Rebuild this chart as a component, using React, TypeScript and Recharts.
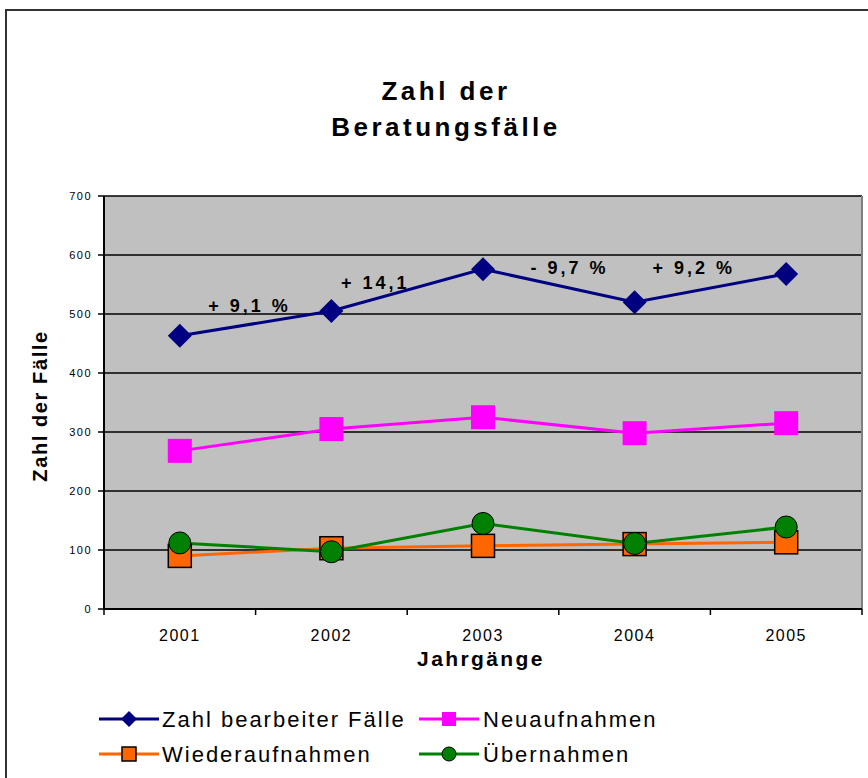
import React from 'react';
import { LineChart, Line, XAxis, YAxis, CartesianGrid, ReferenceDot, ReferenceLine } from 'recharts';

const years = ['2001', '2002', '2003', '2004', '2005'];
const bearbeitet = [463, 505, 576, 520, 568];
const neuaufnahmen = [268, 305, 325, 298, 315];
const wiederaufnahmen = [90, 103, 107, 110, 113];
const uebernahmen = [112, 97, 145, 111, 139];
const yTicks = [0, 100, 200, 300, 400, 500, 600, 700];

const annotationTexts = ['+ 9,1 %', '+ 14,1', '- 9,7 %', '+ 9,2 %'];
const annotationX = [1.46, 2.29, 3.57, 4.39];
const annotationY = [515, 554, 578, 578];

const seriesNames = ['Zahl bearbeiter Fälle', 'Neuaufnahmen', 'Wiederaufnahmen', 'Übernahmen'];

const data = years.map((year, i) => ({
  x: i + 1,
  year,
  bearbeitet: bearbeitet[i],
  neu: neuaufnahmen[i],
  wieder: wiederaufnahmen[i],
  ueber: uebernahmen[i],
}));

const xTicks: number[] = [];
for (let i = 0; i <= years.length * 2; i++) xTicks.push(0.5 + i * 0.5);

const FONT = '"Liberation Sans", Arial, sans-serif';

const NAVY = '#000080';
const MAGENTA = '#ff00ff';
const ORANGE = '#ff6600';
const GREEN = '#008000';

const diamond = (cx: number, cy: number, s: number, fill: string, key?: any) => (
  <polygon key={key} points={`${cx},${cy - s} ${cx + s},${cy} ${cx},${cy + s} ${cx - s},${cy}`} fill={fill} />
);

const DiamondDot = (p: any) => diamond(p.cx, p.cy, 12, NAVY, p.key ?? `d${p.index}`);
const MagentaDot = (p: any) => (
  <rect key={p.key ?? `m${p.index}`} x={p.cx - 12} y={p.cy - 12} width={24} height={24} fill={MAGENTA} />
);
const OrangeDot = (p: any) => (
  <rect key={p.key ?? `o${p.index}`} x={p.cx - 11.5} y={p.cy - 11.5} width={23} height={23} fill={ORANGE} stroke="#000" strokeWidth={1.5} />
);
const GreenDot = (p: any) => (
  <circle key={p.key ?? `g${p.index}`} cx={p.cx} cy={p.cy} r={11} fill={GREEN} stroke="#000" strokeWidth={1} />
);

const XTick = (props: any) => {
  const { x, y, payload } = props;
  const v = payload.value as number;
  if (Number.isInteger(v)) {
    return (
      <text x={x} y={y + 26} textAnchor="middle" fontSize={16} fill="#000" style={{ fontFamily: FONT, letterSpacing: 1.5 }}>
        {years[v - 1]}
      </text>
    );
  }
  return <line x1={x} x2={x} y1={y - 6} y2={y} stroke="#000" strokeWidth={1.5} />;
};

const LegendIcon = ({ x, y, color, kind }: { x: number; y: number; color: string; kind: string }) => {
  const cx = x + 30;
  return (
    <g>
      <line x1={x} x2={x + 60} y1={y} y2={y} stroke={color} strokeWidth={3} />
      {kind === 'diamond' && diamond(cx, y, 8, color)}
      {kind === 'square' && <rect x={cx - 7} y={y - 7} width={14} height={14} fill={color} />}
      {kind === 'osquare' && <rect x={cx - 7} y={y - 7} width={14} height={14} fill={color} stroke="#000" strokeWidth={1.5} />}
      {kind === 'circle' && <circle cx={cx} cy={y} r={7} fill={color} stroke="#000" strokeWidth={1} />}
    </g>
  );
};

export default function App() {
  return (
    <div style={{ position: 'fixed', left: 0, top: 0, width: 868, height: 778, overflow: 'hidden', background: '#fff' }}>
      <div
        style={{
          position: 'absolute',
          left: 5,
          top: 9,
          width: 1000,
          height: 1000,
          border: '2px solid #333',
          boxSizing: 'border-box',
        }}
      />
      <div style={{ position: 'absolute', left: 0, top: 0 }}>
        <LineChart width={868} height={778} data={data} margin={{ top: 196, right: 6, left: 0, bottom: 139 }}>
          <CartesianGrid vertical={false} stroke="#000" strokeWidth={1.6} fill="#c0c0c0" fillOpacity={1} />
          <XAxis
            dataKey="x"
            type="number"
            domain={[0.5, 5.5]}
            ticks={xTicks}
            interval={0}
            tickLine={false}
            tickSize={6}
            tickMargin={0}
            height={30}
            axisLine={{ stroke: '#000', strokeWidth: 2 }}
            tick={XTick}
          />
          <YAxis
            width={104}
            domain={[0, 700]}
            ticks={yTicks}
            interval={0}
            tickSize={6}
            tickMargin={6}
            tickLine={{ stroke: '#000', strokeWidth: 1.5 }}
            axisLine={{ stroke: '#000', strokeWidth: 2 }}
            tick={{ fontSize: 11, fill: '#000', fontFamily: FONT, letterSpacing: 1.5 }}
          />
          <ReferenceLine x={5.5} stroke="#808080" strokeWidth={2} />
          <Line dataKey="bearbeitet" name={seriesNames[0]} stroke={NAVY} strokeWidth={3} dot={DiamondDot} activeDot={false} isAnimationActive={false} />
          <Line dataKey="neu" name={seriesNames[1]} stroke={MAGENTA} strokeWidth={3} dot={MagentaDot} activeDot={false} isAnimationActive={false} />
          <Line dataKey="wieder" name={seriesNames[2]} stroke={ORANGE} strokeWidth={3} dot={OrangeDot} activeDot={false} isAnimationActive={false} />
          <Line dataKey="ueber" name={seriesNames[3]} stroke={GREEN} strokeWidth={3} dot={GreenDot} activeDot={false} isAnimationActive={false} />
          {annotationTexts.map((t, i) => (
            <ReferenceDot
              key={t}
              x={annotationX[i]}
              y={annotationY[i]}
              r={0}
              fill="none"
              stroke="none"
              label={{ value: t, position: 'center', fill: '#000', fontSize: 18, fontWeight: 'bold', fontFamily: FONT, style: { letterSpacing: 3 } }}
            />
          ))}
        </LineChart>
      </div>
      <svg width={868} height={778} style={{ position: 'absolute', left: 0, top: 0, pointerEvents: 'none' }}>
        <g style={{ fontFamily: FONT }} fill="#000">
          <text x={446} y={100} textAnchor="middle" fontSize={26} fontWeight="bold" style={{ letterSpacing: 3.5 }}>
            Zahl der
          </text>
          <text x={446} y={136} textAnchor="middle" fontSize={26} fontWeight="bold" style={{ letterSpacing: 3.5 }}>
            Beratungsfälle
          </text>
          <text x={47} y={406} textAnchor="middle" fontSize={20} fontWeight="bold" transform="rotate(-90, 47, 406)" style={{ letterSpacing: 1.6 }}>
            Zahl der Fälle
          </text>
          <text x={481} y={666} textAnchor="middle" fontSize={21} fontWeight="bold" style={{ letterSpacing: 2.4 }}>
            Jahrgänge
          </text>

          <LegendIcon x={99} y={719} color={NAVY} kind="diamond" />
          <text x={162} y={727} fontSize={22} style={{ letterSpacing: 2 }}>{seriesNames[0]}</text>
          <LegendIcon x={419} y={719} color={MAGENTA} kind="square" />
          <text x={483} y={727} fontSize={22} style={{ letterSpacing: 2 }}>{seriesNames[1]}</text>
          <LegendIcon x={99} y={754} color={ORANGE} kind="osquare" />
          <text x={162} y={762} fontSize={22} style={{ letterSpacing: 2 }}>{seriesNames[2]}</text>
          <LegendIcon x={419} y={754} color={GREEN} kind="circle" />
          <text x={483} y={762} fontSize={22} style={{ letterSpacing: 2 }}>{seriesNames[3]}</text>
        </g>
      </svg>
    </div>
  );
}
